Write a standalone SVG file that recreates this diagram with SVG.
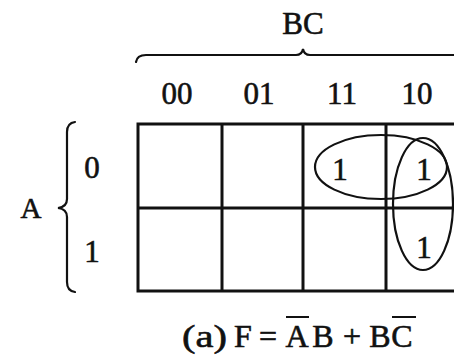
<svg xmlns="http://www.w3.org/2000/svg" width="454" height="357" viewBox="0 0 454 357">
<style>
text{font-family:"Liberation Serif","Times New Roman",serif;fill:#111;stroke:#111;stroke-width:0.6;text-anchor:middle}
.lbl{font-size:31px}
.grid{fill:none;stroke:#111;stroke-width:3}
.loop{fill:none;stroke:#111;stroke-width:2.2}
.brace{fill:none;stroke:#111;stroke-width:2.2;stroke-linecap:round}
</style>
<rect width="454" height="357" fill="#fff"/>
<g id="bc-label">
<text class="lbl" x="303" y="34" font-size="32">BC</text>
<path class="brace" d="M136,62 Q137,55 146,55 L296,55 Q302,55 303,49 Q304,55 310,55 L460,55"/>
</g>
<g id="col-labels">
<text class="lbl" x="177" y="104">00</text>
<text class="lbl" x="259" y="104">01</text>
<text class="lbl" x="342" y="104">11</text>
<text class="lbl" x="417" y="104">10</text>
</g>
<g id="a-label">
<text x="31" y="218" font-size="29">A</text>
<path class="brace" d="M75,122 Q67,123 67,132 L67,199 Q67,207 58,208 Q67,209 67,217 L67,282 Q67,291 75,292"/>
<text class="lbl" x="92" y="178">0</text>
<text class="lbl" x="92" y="262">1</text>
</g>
<g id="kmap">
<rect class="grid" x="138" y="124" width="340" height="167"/>
<line class="grid" x1="222" y1="124" x2="222" y2="291"/>
<line class="grid" x1="303" y1="124" x2="303" y2="291"/>
<line class="grid" x1="386" y1="124" x2="386" y2="291"/>
<line class="grid" x1="138" y1="208" x2="478" y2="208"/>
</g>
<g id="cells">
<text class="lbl" x="340" y="180">1</text>
<text class="lbl" x="424" y="180">1</text>
<text class="lbl" x="424" y="258">1</text>
</g>
<g id="groups">
<ellipse class="loop" cx="381" cy="167" rx="66" ry="32"/>
<ellipse class="loop" cx="423" cy="204" rx="30" ry="66"/>
</g>
<g id="caption" font-size="32">
<text x="182" y="347" style="text-anchor:start" textLength="45" lengthAdjust="spacingAndGlyphs">(a)</text>
<text x="243" y="347">F</text>
<text x="268" y="347">=</text>
<text x="297" y="347">A</text>
<text x="323" y="347">B</text>
<text x="352" y="347">+</text>
<text x="380" y="347">B</text>
<text x="402" y="347">C</text>
<line x1="286" y1="317" x2="309" y2="317" stroke="#111" stroke-width="2"/>
<line x1="392" y1="317" x2="416" y2="317" stroke="#111" stroke-width="2"/>
</g>
</svg>
